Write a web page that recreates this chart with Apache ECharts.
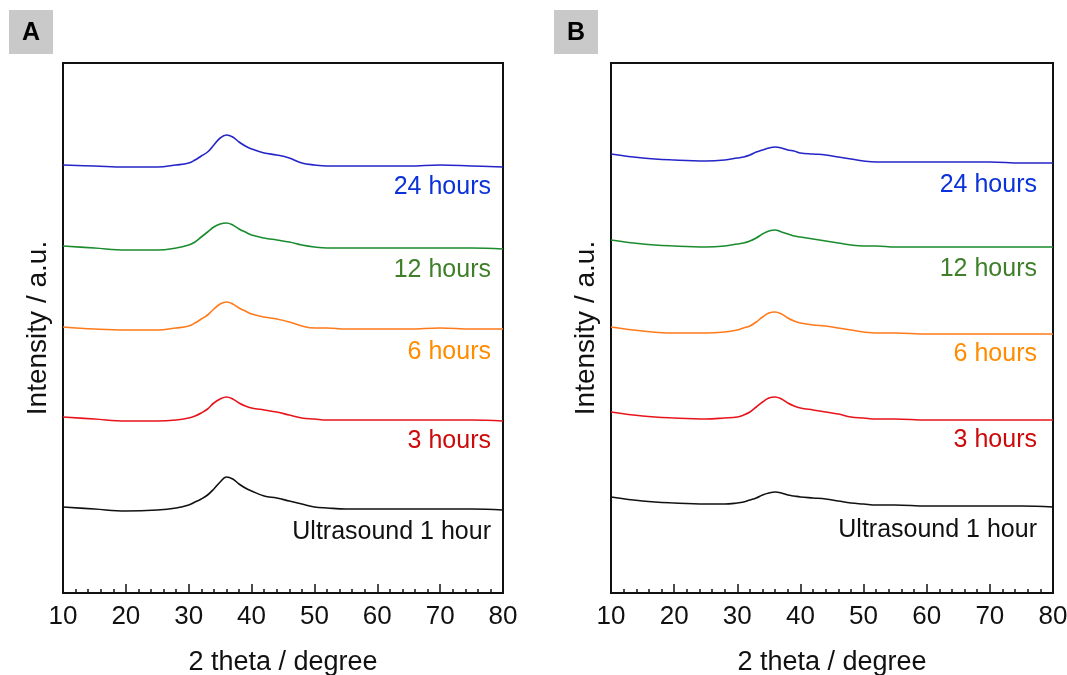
<!DOCTYPE html>
<html>
<head>
<meta charset="utf-8">
<script src="https://cdn.jsdelivr.net/npm/echarts@6/dist/echarts.min.js"></script>
<style>
html,body{margin:0;padding:0;background:#fff;}
#main{width:1067px;height:675px;}
</style>
</head>
<body>
<div id="main"></div>
<script>
// 2 theta positions shared by all curves
var theta = [10,15,20,25,28,30,31,32,33,34,35,36,37,38,39,40,42,44,46,48,50,52,55,60,65,70,75,80];

// panel A (offset intensities)
var a1h  = [86,84,82,83,85,88,91,94,98,104,111,116,114,109,105,102,97,95,92,89,86,85,84,84,84,84,84,83];
var a3h  = [176,174,172,172,173,175,177,180,184,190,194,196,194,190,187,185,183,181,178,175,174,173,173,173,173,173,173,172];
var a6h  = [266,264,263,263,265,267,270,274,278,284,289,291,289,285,282,279,276,274,271,267,265,265,264,264,264,265,264,264];
var a12h = [347,345,343,343,345,348,351,356,361,366,369,370,368,364,361,358,355,353,351,348,346,345,345,345,345,345,345,344];
var a24h = [428,427,426,426,428,430,433,437,441,448,455,458,456,451,447,444,440,438,435,430,428,427,427,427,427,428,427,426];

// panel B
var b1h  = [96,92,90,89,89,90,91,93,95,98,100,101,100,98,97,96,95,94,92,90,89,88,88,87,87,87,87,86];
var b3h  = [181,177,175,174,175,176,178,181,186,191,195,196,194,190,187,185,183,181,179,176,175,174,174,173,173,173,173,173];
var b6h  = [266,262,260,260,261,263,265,267,271,276,280,281,279,275,272,270,268,267,265,263,261,260,260,259,259,259,259,259];
var b12h = [353,349,347,346,347,349,350,352,355,359,362,363,361,359,357,356,354,352,350,348,347,347,346,346,346,346,346,346];
var b24h = [439,435,433,432,433,435,436,438,441,443,445,446,445,443,442,440,439,438,436,434,432,431,431,431,431,431,430,430];

var labels = ['Ultrasound 1 hour','3 hours','6 hours','12 hours','24 hours'];
var lineColors = ['#111111','#e8141c','#ff7a1a','#1a8c2e','#2424c8'];
var textColors = ['#111111','#cc0a0a','#ff8c00','#3f7f2a','#0a32d8'];

var myChart = echarts.init(document.getElementById('main'));
var font = 'Liberation Sans, Arial, Helvetica, sans-serif';

function pairs(ys){
	var out = [];
	for (var i = 0; i < theta.length; i++) out.push([theta[i], ys[i]]);
	return out;
}

function xAx(idx){
	return {
		gridIndex: idx, type: 'value', min: 10, max: 80, interval: 10,
		name: '2 theta / degree', nameLocation: 'middle', nameGap: 56,
		nameTextStyle: {fontSize: 27, color: '#111', fontFamily: font},
		axisLine: {lineStyle: {color: '#111', width: 2}},
		axisTick: {inside: true, length: 9, lineStyle: {color: '#111', width: 1.5}},
		minorTick: {show: true, splitNumber: 5, length: 4, lineStyle: {color: '#111', width: 1.5}},
		axisLabel: {fontSize: 26, color: '#111', margin: 11, fontFamily: font},
		splitLine: {show: false}
	};
}
function yAx(idx){
	return {
		gridIndex: idx, type: 'value', min: 0, max: 530,
		name: 'Intensity / a.u.', nameLocation: 'middle', nameGap: 11,
		nameTextStyle: {fontSize: 28, color: '#111', fontFamily: font},
		axisLine: {show: true, lineStyle: {color: '#111', width: 2}},
		axisTick: {show: false}, axisLabel: {show: false}, splitLine: {show: false}
	};
}

var setsA = [a1h, a3h, a6h, a12h, a24h];
var setsB = [b1h, b3h, b6h, b12h, b24h];
var series = [];
for (var i = 0; i < 5; i++) {
	series.push({type: 'line', xAxisIndex: 0, yAxisIndex: 0, data: pairs(setsA[i]), smooth: 0.4,
		showSymbol: false, lineStyle: {color: lineColors[i], width: 1.6}});
	series.push({type: 'line', xAxisIndex: 1, yAxisIndex: 1, data: pairs(setsB[i]), smooth: 0.4,
		showSymbol: false, lineStyle: {color: lineColors[i], width: 1.6}});
}

// label text positions
var labYA = [532, 441, 352, 270, 187];
var labYB = [530, 440, 354, 269, 185];
var graphic = [
	{type: 'rect', left: 9, top: 10, shape: {width: 44, height: 44}, style: {fill: '#c9c9c9'}},
	{type: 'text', x: 31, y: 33, style: {text: 'A', font: 'bold 25px ' + font, fill: '#000', textAlign: 'center', textVerticalAlign: 'middle'}},
	{type: 'rect', left: 554, top: 10, shape: {width: 44, height: 44}, style: {fill: '#c9c9c9'}},
	{type: 'text', x: 576, y: 33, style: {text: 'B', font: 'bold 25px ' + font, fill: '#000', textAlign: 'center', textVerticalAlign: 'middle'}}
];
for (var j = 0; j < 5; j++) {
	graphic.push({type: 'text', x: 491, y: labYA[j], style: {text: labels[j], font: '25px ' + font,
		fill: textColors[j], textAlign: 'right', textVerticalAlign: 'middle'}});
	graphic.push({type: 'text', x: 1037, y: labYB[j], style: {text: labels[j], font: '25px ' + font,
		fill: textColors[j], textAlign: 'right', textVerticalAlign: 'middle'}});
}

var option = {
	animation: false,
	grid: [
		{left: 63, width: 440, top: 63, height: 530, outerBoundsMode: 'none', show: true, borderColor: '#111', borderWidth: 2},
		{left: 611, width: 442, top: 63, height: 530, outerBoundsMode: 'none', show: true, borderColor: '#111', borderWidth: 2}
	],
	xAxis: [xAx(0), xAx(1)],
	yAxis: [yAx(0), yAx(1)],
	series: series,
	graphic: graphic
};
myChart.setOption(option);
</script>
</body>
</html>
